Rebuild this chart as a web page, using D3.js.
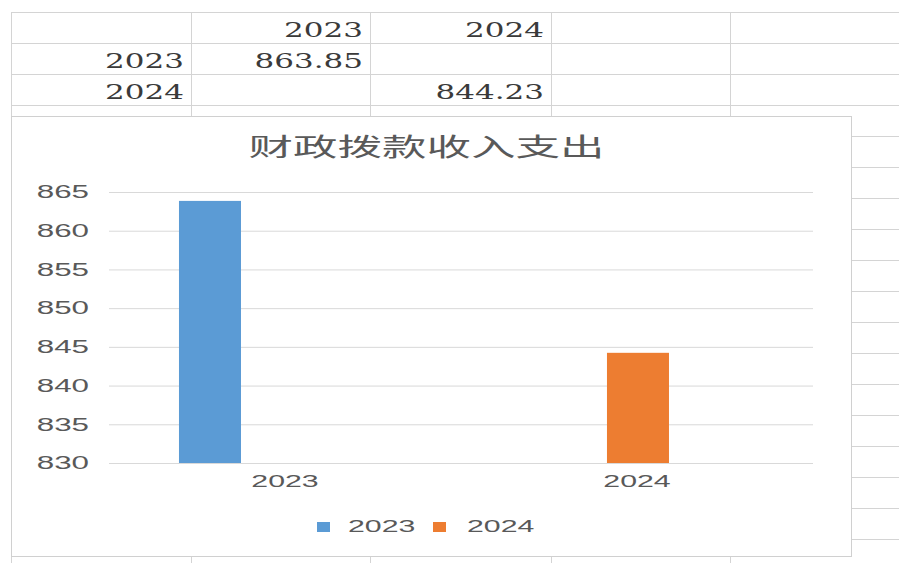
<!DOCTYPE html>
<html>
<head>
<meta charset="utf-8">
<script src="https://cdn.jsdelivr.net/npm/d3@7"></script>
<style>
  html, body { margin: 0; padding: 0; background: #fff; }
  svg { display: block; }
  .cell text { font-family: "DejaVu Serif", "Liberation Serif", serif; }
</style>
</head>
<body>
<div id="root"></div>
<script>
// sheet cells above the chart
let tableHeader = ["", "2023", "2024"];
let tableRowLabels = ["2023", "2024"];
let tableCells = [["863.85", ""], ["", "844.23"]];

// chart data
let title = "财政拨款收入支出";
let categories = ["2023", "2024"];
let series = ["2023", "2024"];
let values2023 = [863.85, null];
let values2024 = [null, 844.23];
let yDomain = [830, 865];

let COLORS = ["#5b9bd5", "#ed7d31"];
let GRID = "#d9d9d9";
let TEXT = "#595959";

let width = 899, height = 563;
let svg = d3.select("#root").append("svg")
	.attr("width", width)
	.attr("height", height)
	.attr("viewBox", `0 0 ${width} ${height}`);

// the screenshot is squeezed wide, so stretch text the same way
function widen(sel, k) {
	sel.each(function() {
		let w = this.getComputedTextLength();
		if(w > 0) {
			d3.select(this).attr("textLength", w * k).attr("lengthAdjust", "spacingAndGlyphs");
		}
	});
}

// ---- spreadsheet grid ----
let colX = [11, 191, 370, 551, 730];
let rowH = 31, rowTop = 12;
let sheet = svg.append("g").attr("stroke", "#d4d4d4").attr("stroke-width", 1);
colX.forEach(x => sheet.append("line").attr("x1", x + 0.5).attr("x2", x + 0.5).attr("y1", rowTop).attr("y2", height));
d3.range(0, 18).forEach(i => {
	let y = Math.round(rowTop + i * rowH) + 0.5;
	sheet.append("line").attr("x1", colX[0]).attr("x2", width).attr("y1", y).attr("y2", y);
});

let cellText = svg.append("g")
	.attr("class", "cell")
	.attr("font-size", 20)
	.attr("fill", "#3a3a3a")
	.attr("text-anchor", "end");

function cell(col, row, txt) {
	if(!txt) return;
	cellText.append("text")
		.attr("x", colX[col + 1] - 7)
		.attr("y", rowTop + row * rowH + 25)
		.text(txt)
		.call(widen, 1.55);
}
tableHeader.forEach((t, i) => cell(i, 0, t));
tableRowLabels.forEach((t, r) => {
	cell(0, r + 1, t);
	tableCells[r].forEach((v, c) => cell(c + 1, r + 1, v));
});

// ---- chart box ----
let box = { x: 11, y: 116, w: 840, h: 440 };
svg.append("rect")
	.attr("x", box.x + 0.5).attr("y", box.y + 0.5)
	.attr("width", box.w).attr("height", box.h)
	.attr("fill", "#fff")
	.attr("stroke", "#d0d0d0");

let plot = { left: 109, right: 813, top: 192, bottom: 463 };

svg.append("text")
	.attr("x", (243 + 610) / 2)
	.attr("y", 156)
	.attr("text-anchor", "middle")
	.attr("font-family", "'Noto Sans CJK SC', sans-serif")
	.attr("font-size", 25)
	.attr("fill", TEXT)
	.text(title)
	.call(widen, 1.78);

let y = d3.scaleLinear().domain(yDomain).range([plot.bottom, plot.top]);

let x0 = d3.scaleBand().domain(categories).range([plot.left, plot.right]);
let x1 = d3.scaleBand().domain(series).range([0, x0.bandwidth()])
	.paddingInner(0.184).paddingOuter(1.408).align(0.327);

// gridlines + y labels
let yAxis = svg.append("g")
	.attr("transform", `translate(${plot.left},0)`)
	.call(d3.axisLeft(y).ticks(7).tickSize(-(plot.right - plot.left)).tickPadding(20));
yAxis.select(".domain").remove();
yAxis.selectAll(".tick line").attr("stroke", GRID);
yAxis.selectAll(".tick text")
	.attr("font-family", "'Liberation Sans', Arial, sans-serif")
	.attr("font-size", 18)
	.attr("fill", TEXT)
	.call(widen, 1.74);

// bars
let allValues = [values2023, values2024];
let bars = [];
series.forEach((s, si) => {
	categories.forEach((c, ci) => {
		let v = allValues[si][ci];
		if(v != null) bars.push({ s, si, c, v });
	});
});

svg.append("g").selectAll("rect")
	.data(bars)
	.join("rect")
	.attr("x", d => x0(d.c) + x1(d.s))
	.attr("width", x1.bandwidth())
	.attr("y", d => y(d.v))
	.attr("height", d => y(yDomain[0]) - y(d.v))
	.attr("fill", d => COLORS[d.si]);

// category labels
let xAxis = svg.append("g")
	.attr("transform", `translate(0,${plot.bottom})`)
	.call(d3.axisBottom(x0).tickSize(0).tickPadding(12));
xAxis.select(".domain").remove();
xAxis.selectAll(".tick text")
	.attr("font-family", "'Liberation Sans', Arial, sans-serif")
	.attr("font-size", 17)
	.attr("fill", TEXT)
	.call(widen, 1.78);

// legend
let legendX = [317, 433];
let legend = svg.append("g").selectAll("g")
	.data(series)
	.join("g")
	.attr("transform", (d, i) => `translate(${legendX[i]},522)`);
legend.append("rect")
	.attr("width", 13).attr("height", 10)
	.attr("fill", (d, i) => COLORS[i]);
legend.append("text")
	.attr("x", (d, i) => i === 0 ? 31 : 34)
	.attr("y", 10)
	.attr("font-family", "'Liberation Sans', Arial, sans-serif")
	.attr("font-size", 17)
	.attr("fill", TEXT)
	.text(d => d)
	.call(widen, 1.78);
</script>
</body>
</html>
